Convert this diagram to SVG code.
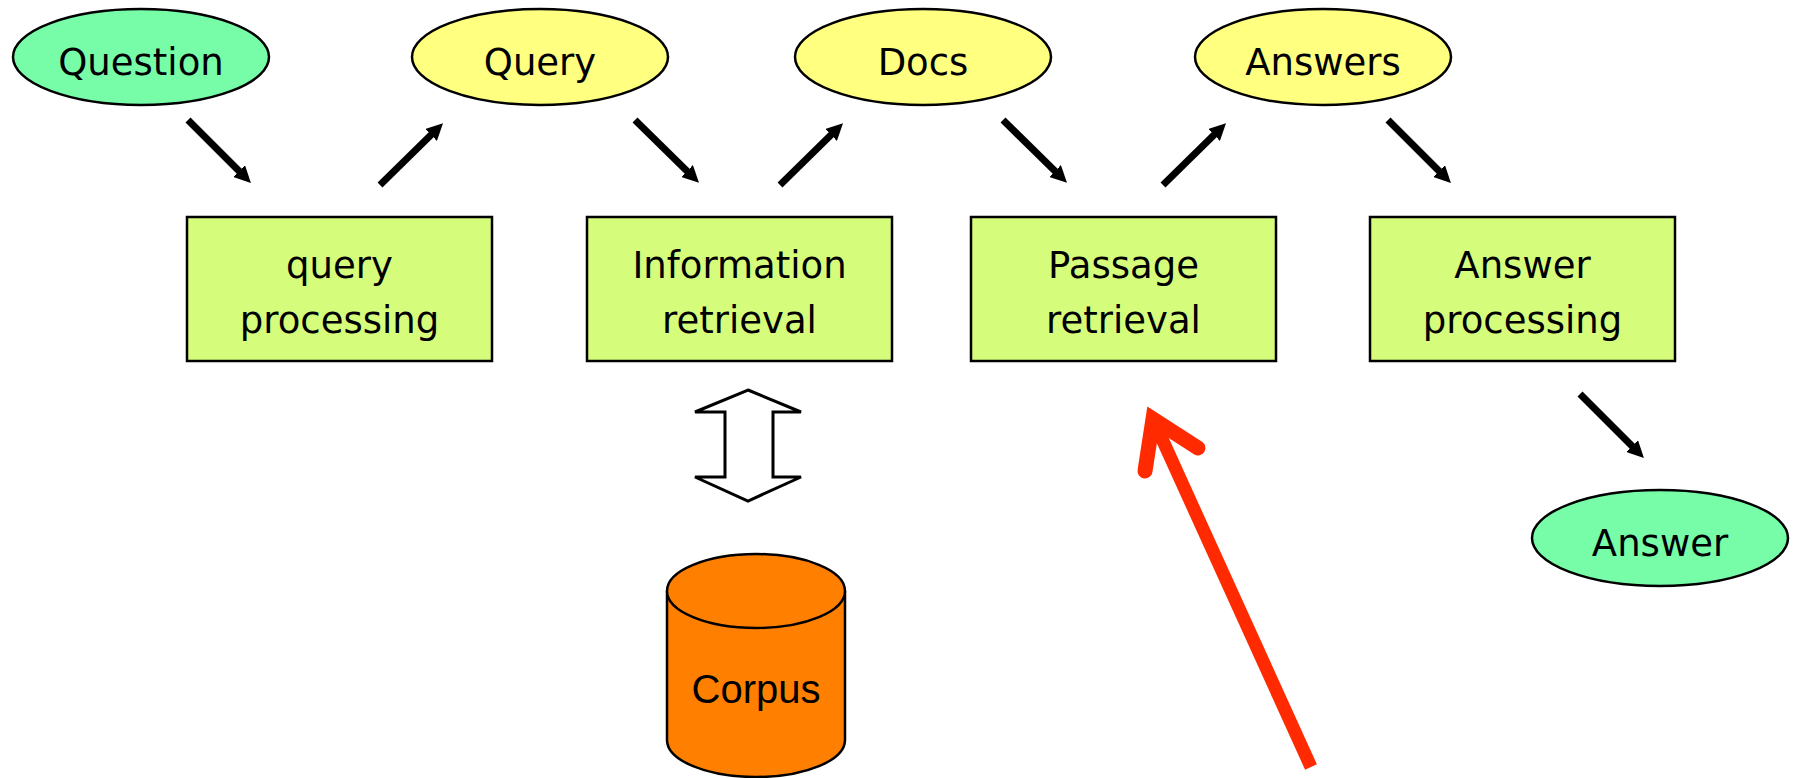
<svg xmlns="http://www.w3.org/2000/svg" width="1795" height="778" viewBox="0 0 1795 778">
<style>
.t{font-family:"DejaVu Sans","Liberation Sans",sans-serif;font-size:37px;fill:#000;text-anchor:middle}
.g{fill:#77FCA8;stroke:#000;stroke-width:2.5}
.y{fill:#FFFF80;stroke:#000;stroke-width:2.5}
.b{fill:#D6FC7C;stroke:#000;stroke-width:2.5}
.a{stroke:#000;stroke-width:7;fill:none;marker-end:url(#ah)}
</style>
<defs>
<marker id="ah" markerWidth="2.4" markerHeight="2.4" refX="0.8" refY="1.2" orient="auto" markerUnits="strokeWidth" viewBox="0 0 2.4 2.4">
<path d="M0,0 L2.4,1.2 L0,2.4 Z" fill="#000"/>
</marker>
</defs>
<rect width="1795" height="778" fill="#fff"/>
<g id="question"><ellipse class="g" cx="141" cy="57" rx="128" ry="48"/><text class="t" x="141" y="75">Question</text></g>
<g id="query"><ellipse class="y" cx="540" cy="57" rx="128" ry="48"/><text class="t" x="540" y="75">Query</text></g>
<g id="docs"><ellipse class="y" cx="923" cy="57" rx="128" ry="48"/><text class="t" x="923" y="75">Docs</text></g>
<g id="answers"><ellipse class="y" cx="1323" cy="57" rx="128" ry="48"/><text class="t" x="1323" y="75">Answers</text></g>
<g id="answer"><ellipse class="g" cx="1660" cy="538" rx="128" ry="48"/><text class="t" x="1660" y="556">Answer</text></g>
<g id="query-processing"><rect class="b" x="187" y="217" width="305" height="144"/><text class="t" x="339.5" y="278">query</text><text class="t" x="339.5" y="333">processing</text></g>
<g id="information-retrieval"><rect class="b" x="587" y="217" width="305" height="144"/><text class="t" x="739.5" y="278">Information</text><text class="t" x="739.5" y="333">retrieval</text></g>
<g id="passage-retrieval"><rect class="b" x="971" y="217" width="305" height="144"/><text class="t" x="1123.5" y="278">Passage</text><text class="t" x="1123.5" y="333">retrieval</text></g>
<g id="answer-processing"><rect class="b" x="1370" y="217" width="305" height="144"/><text class="t" x="1522.5" y="278">Answer</text><text class="t" x="1522.5" y="333">processing</text></g>
<g id="corpus">
<path d="M667,591 L667,740 A89,37 0 0 0 845,740 L845,591" fill="#FF7F00" stroke="#000" stroke-width="2.5"/>
<ellipse cx="756" cy="591" rx="89" ry="37" fill="#FF7F00" stroke="#000" stroke-width="2.5"/>
<text x="756" y="703" font-family="Liberation Sans,Arial,sans-serif" font-size="40" text-anchor="middle">Corpus</text>
</g>
<g id="connectors">
<line class="a" x1="188" y1="120" x2="243" y2="175"/>
<line class="a" x1="380" y1="185" x2="435" y2="131"/>
<line class="a" x1="635" y1="120" x2="691" y2="175"/>
<line class="a" x1="780" y1="185" x2="835" y2="131"/>
<line class="a" x1="1003" y1="120" x2="1059" y2="175"/>
<line class="a" x1="1163" y1="185" x2="1218" y2="131"/>
<line class="a" x1="1388" y1="120" x2="1443" y2="175"/>
<line class="a" x1="1580" y1="394" x2="1636" y2="450"/>
<path d="M748,390 L801,412 L773,412 L773,477 L801,477 L748,501 L695,477 L725,477 L725,412 L695,412 Z" fill="#fff" stroke="#000" stroke-width="3"/>
<line x1="1311" y1="767" x2="1158" y2="430" stroke="#FF2A00" stroke-width="13"/>
<polyline points="1145,471 1153,419 1198,448" fill="none" stroke="#FF2A00" stroke-width="15" stroke-linecap="round" stroke-linejoin="miter" stroke-miterlimit="10"/>
</g>
</svg>
